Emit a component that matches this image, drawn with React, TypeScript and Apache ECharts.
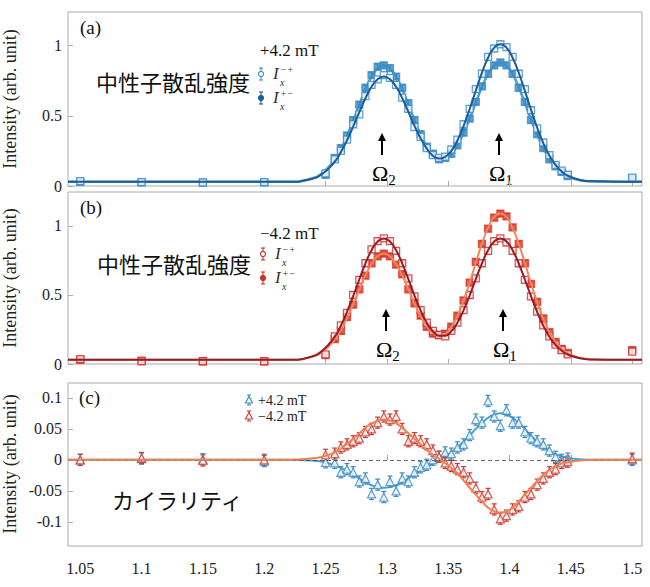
import React, { useRef, useEffect } from 'react';
import * as echarts from 'echarts';

// shared energy grid (dense scan) and sparse background points
const xDense = [1.2575, 1.2625, 1.2675, 1.2725, 1.2775, 1.2825, 1.2875, 1.2925, 1.2975, 1.3025, 1.3075, 1.3125, 1.3175, 1.3225, 1.3275, 1.3325, 1.3375, 1.3425, 1.3475, 1.3525, 1.3575, 1.3625, 1.3675, 1.3725, 1.3775, 1.3825, 1.3875, 1.3925, 1.3975, 1.4025, 1.4075, 1.4125, 1.4175, 1.4225, 1.4275, 1.4325, 1.4375, 1.4425, 1.4475];
const xSparse = [1.05, 1.1, 1.15, 1.2, 1.25, 1.5];
const fitXHead = [1.04, 1.22, 1.2375, 1.2475];
const fitXTail = [1.4575, 1.4675, 1.49, 1.508];
const xTicks = [1.05, 1.1, 1.15, 1.2, 1.25, 1.3, 1.35, 1.4, 1.45, 1.5];

// (a) +4.2 mT
const fitDarkA = [0.03, 0.03, 0.048, 0.087, 0.173, 0.242, 0.326, 0.423, 0.526, 0.625, 0.707, 0.761, 0.78, 0.761, 0.707, 0.626, 0.529, 0.429, 0.339, 0.266, 0.216, 0.196, 0.208, 0.25, 0.324, 0.427, 0.549, 0.68, 0.808, 0.914, 0.986, 1.01, 0.986, 0.914, 0.807, 0.678, 0.544, 0.417, 0.306, 0.217, 0.151, 0.104, 0.073, 0.043, 0.033, 0.03, 0.03];
const fitLightA = [0.03, 0.03, 0.05, 0.093, 0.189, 0.264, 0.358, 0.465, 0.579, 0.688, 0.779, 0.839, 0.86, 0.839, 0.779, 0.689, 0.582, 0.47, 0.369, 0.284, 0.226, 0.197, 0.198, 0.229, 0.29, 0.377, 0.48, 0.594, 0.705, 0.797, 0.859, 0.88, 0.859, 0.797, 0.704, 0.592, 0.475, 0.366, 0.27, 0.192, 0.135, 0.095, 0.067, 0.041, 0.033, 0.03, 0.03];
const openA = [0.19, 0.25, 0.33, 0.44, 0.51, 0.64, 0.72, 0.76, 0.79, 0.77, 0.72, 0.63, 0.55, 0.42, 0.35, 0.27, 0.22, 0.2, 0.21, 0.26, 0.33, 0.44, 0.55, 0.69, 0.8, 0.92, 0.98, 1.01, 0.99, 0.92, 0.8, 0.69, 0.54, 0.41, 0.31, 0.22, 0.15, 0.11, 0.08];
const openASparse = [0.035, 0.028, 0.025, 0.028, 0.09, 0.06];
const filledA = [0.2, 0.27, 0.36, 0.47, 0.58, 0.7, 0.79, 0.85, 0.86, 0.84, 0.78, 0.7, 0.59, 0.47, 0.37, 0.28, 0.23, 0.19, 0.2, 0.23, 0.29, 0.38, 0.48, 0.6, 0.71, 0.8, 0.86, 0.88, 0.86, 0.8, 0.7, 0.6, 0.47, 0.37, 0.27, 0.19, 0.14, 0.1, 0.07];
const filledASparse = [0.03, 0.026, 0.024, 0.026, 0.08, 0.055];

// (b) -4.2 mT
const fitDarkB = [0.03, 0.03, 0.051, 0.097, 0.198, 0.278, 0.378, 0.491, 0.612, 0.728, 0.824, 0.888, 0.91, 0.888, 0.824, 0.729, 0.615, 0.496, 0.389, 0.299, 0.237, 0.205, 0.205, 0.237, 0.299, 0.389, 0.496, 0.615, 0.729, 0.824, 0.888, 0.91, 0.888, 0.824, 0.728, 0.612, 0.491, 0.378, 0.278, 0.198, 0.138, 0.097, 0.069, 0.041, 0.033, 0.03, 0.03];
const fitOrangeB = [0.03, 0.03, 0.048, 0.089, 0.177, 0.247, 0.334, 0.433, 0.539, 0.641, 0.725, 0.781, 0.8, 0.781, 0.725, 0.642, 0.542, 0.439, 0.348, 0.272, 0.224, 0.206, 0.219, 0.266, 0.347, 0.459, 0.59, 0.733, 0.872, 0.986, 1.064, 1.09, 1.064, 0.986, 0.871, 0.731, 0.585, 0.449, 0.329, 0.232, 0.16, 0.111, 0.077, 0.044, 0.033, 0.03, 0.03];
const openB = [0.2, 0.28, 0.37, 0.5, 0.61, 0.73, 0.83, 0.89, 0.91, 0.89, 0.82, 0.73, 0.62, 0.49, 0.39, 0.3, 0.24, 0.21, 0.2, 0.24, 0.3, 0.39, 0.5, 0.62, 0.73, 0.82, 0.89, 0.91, 0.88, 0.82, 0.73, 0.61, 0.49, 0.38, 0.28, 0.2, 0.14, 0.1, 0.07];
const openBSparse = [0.035, 0.02, 0.02, 0.02, 0.07, 0.09];
const filledB = [0.18, 0.24, 0.34, 0.43, 0.54, 0.64, 0.73, 0.78, 0.8, 0.78, 0.72, 0.65, 0.54, 0.44, 0.35, 0.27, 0.22, 0.21, 0.22, 0.27, 0.35, 0.46, 0.59, 0.74, 0.87, 0.98, 1.06, 1.09, 1.07, 0.99, 0.87, 0.73, 0.58, 0.45, 0.33, 0.23, 0.16, 0.11, 0.08];
const filledBSparse = [0.03, 0.025, 0.02, 0.02, 0.065, 0.1];

// (c) chirality
const fitBlueC = [0, 0, -0.001, -0.003, -0.009, -0.013, -0.018, -0.024, -0.03, -0.036, -0.041, -0.044, -0.045, -0.044, -0.041, -0.036, -0.03, -0.024, -0.017, -0.011, -0.006, 0, 0.006, 0.012, 0.02, 0.029, 0.039, 0.05, 0.059, 0.068, 0.073, 0.075, 0.073, 0.068, 0.059, 0.05, 0.039, 0.03, 0.021, 0.014, 0.009, 0.006, 0.003, 0.001, 0, 0, 0];
const fitRedC = [0, 0, 0.002, 0.005, 0.012, 0.018, 0.026, 0.034, 0.043, 0.052, 0.059, 0.063, 0.065, 0.063, 0.059, 0.052, 0.043, 0.034, 0.025, 0.016, 0.008, 0.002, -0.005, -0.013, -0.022, -0.033, -0.045, -0.056, -0.067, -0.077, -0.083, -0.085, -0.083, -0.077, -0.067, -0.056, -0.045, -0.034, -0.024, -0.016, -0.01, -0.006, -0.004, -0.001, 0, 0, 0];
const blueC = [-0.005, -0.02, -0.015, -0.02, -0.035, -0.03, -0.055, -0.04, -0.06, -0.035, -0.05, -0.03, -0.035, -0.02, -0.012, -0.008, 0, 0.005, 0.012, 0.01, 0.02, 0.025, 0.04, 0.065, 0.06, 0.095, 0.07, 0.055, 0.08, 0.06, 0.06, 0.045, 0.035, 0.03, 0.025, 0.015, 0.005, 0, 0.002];
const blueCSparse = [0, 0.002, 0.001, -0.002, -0.004, 0];
const redC = [0.01, 0.02, 0.025, 0.03, 0.035, 0.045, 0.05, 0.06, 0.07, 0.065, 0.07, 0.05, 0.03, 0.035, 0.03, 0.025, 0.015, 0.005, -0.005, -0.01, -0.015, -0.02, -0.03, -0.045, -0.06, -0.055, -0.08, -0.095, -0.09, -0.08, -0.075, -0.06, -0.055, -0.04, -0.03, -0.02, -0.015, -0.005, -0.003];
const redCSparse = [0, 0.003, -0.001, 0, 0.008, 0.002];

const SERIF = 'Liberation Serif, DejaVu Serif, serif';
const JP = 'Noto Sans CJK JP, sans-serif';

const fitX = [...fitXHead, ...xDense, ...fitXTail];
const pairs = (xs: number[], ys: number[]) => xs.map((x, i) => [x, ys[i]]);
const points = (dense: number[], sparse: number[]) => [...pairs(xSparse, sparse), ...pairs(xDense, dense)];

function errBars(idx: number, data: number[][], err: number, color: string) {
  return {
    type: 'custom', xAxisIndex: idx, yAxisIndex: idx, z: 3,
    data: data.map(d => [d[0], d[1], err]),
    renderItem: (_p: any, api: any) => {
      const x = api.value(0), y = api.value(1), e = api.value(2);
      const t = api.coord([x, y + e]), b = api.coord([x, y - e]);
      const st = { stroke: color, lineWidth: 1.2 };
      return {
        type: 'group', children: [
          { type: 'line', shape: { x1: t[0], y1: t[1], x2: b[0], y2: b[1] }, style: st },
          { type: 'line', shape: { x1: t[0] - 2.5, y1: t[1], x2: t[0] + 2.5, y2: t[1] }, style: st },
          { type: 'line', shape: { x1: b[0] - 2.5, y1: b[1], x2: b[0] + 2.5, y2: b[1] }, style: st },
        ],
      };
    },
  };
}

function pts(idx: number, data: number[][], symbol: string, color: string, filled: boolean, size: number) {
  return {
    type: 'scatter', xAxisIndex: idx, yAxisIndex: idx, z: 4, data, symbol, symbolSize: size,
    itemStyle: { color: filled ? color : '#fff', borderColor: color, borderWidth: 1.3 },
  };
}

function fit(idx: number, ys: number[], color: string, width: number, z: number, extra: any = {}) {
  return {
    type: 'line', xAxisIndex: idx, yAxisIndex: idx, data: pairs(fitX, ys), smooth: true, symbol: 'none', z,
    lineStyle: { color, width }, ...extra,
  };
}

function omega(x: number, y: number, sub: string) {
  return [
    { type: 'line', shape: { x1: x, y1: y + 22, x2: x, y2: y + 6 }, style: { stroke: '#000', lineWidth: 2 } },
    { type: 'polygon', shape: { points: [[x - 4, y + 8], [x + 4, y + 8], [x, y]] }, style: { fill: '#000' } },
    {
      type: 'text', x: x - 10, y: y + 27,
      style: { text: `Ω{s|${sub}}`, fontFamily: SERIF, fontSize: 22, fill: '#000', rich: { s: { fontFamily: SERIF, fontSize: 15, padding: [12, 0, 0, 0] } } },
    },
  ];
}

function legendItem(x: number, y: number, color: string, filled: boolean, sup: string) {
  return [
    { type: 'line', shape: { x1: x, y1: y - 6, x2: x, y2: y + 6 }, style: { stroke: color, lineWidth: 1.1 } },
    { type: 'line', shape: { x1: x - 2, y1: y - 6, x2: x + 2, y2: y - 6 }, style: { stroke: color, lineWidth: 1.1 } },
    { type: 'line', shape: { x1: x - 2, y1: y + 6, x2: x + 2, y2: y + 6 }, style: { stroke: color, lineWidth: 1.1 } },
    { type: 'circle', shape: { cx: x, cy: y, r: 2.5 }, style: { fill: filled ? color : '#fff', stroke: color, lineWidth: 1.1 } },
    { type: 'text', x: x + 12, y: y - 9, style: { text: 'I', fontFamily: SERIF, fontStyle: 'italic', fontSize: 17, fill: '#333' } },
    { type: 'text', x: x + 19, y: y - 10, style: { text: sup, fontFamily: SERIF, fontStyle: 'italic', fontSize: 10, fill: '#333' } },
    { type: 'text', x: x + 19, y: y + 3, style: { text: 'x', fontFamily: SERIF, fontStyle: 'italic', fontSize: 10, fill: '#333' } },
  ];
}

function triLegend(x: number, y: number, color: string, label: string) {
  return [
    { type: 'line', shape: { x1: x, y1: y - 5, x2: x, y2: y + 5 }, style: { stroke: color, lineWidth: 1.1 } },
    { type: 'line', shape: { x1: x - 2, y1: y - 5, x2: x + 2, y2: y - 5 }, style: { stroke: color, lineWidth: 1.1 } },
    { type: 'line', shape: { x1: x - 2, y1: y + 5, x2: x + 2, y2: y + 5 }, style: { stroke: color, lineWidth: 1.1 } },
    { type: 'polygon', shape: { points: [[x - 3.5, y + 3], [x + 3.5, y + 3], [x, y - 3.5]] }, style: { fill: '#fff', stroke: color, lineWidth: 1.1 } },
    { type: 'text', x: x + 9, y: y - 7, style: { text: label, fontFamily: SERIF, fontSize: 14, fill: '#222' } },
  ];
}

export default function App() {
  const ref = useRef<HTMLDivElement>(null);

  useEffect(() => {
    if (!ref.current) return;
    const chart = echarts.init(ref.current, null, { renderer: 'svg' });

    const grids = [
      { left: 68, right: 8, top: 12, height: 174 },
      { left: 68, right: 8, top: 192, height: 172 },
      { left: 68, right: 8, top: 383, height: 163 },
    ];
    const yRanges = [[0, 1.24], [0, 1.246], [-0.139, 0.124]];
    const yTicks = [[0, 0.5, 1], [0, 0.5, 1], [-0.1, -0.05, 0, 0.05, 0.1]];
    const axisText = { color: '#222', fontFamily: SERIF, fontSize: 16 };

    const option: any = {
      animation: false,
      grid: grids.map(g => ({ ...g, show: true, borderColor: '#aaa', borderWidth: 1, backgroundColor: '#fff' })),
      xAxis: grids.map((_, i) => ({
        type: 'value', gridIndex: i, min: 1.04, max: 1.508,
        axisLine: { show: false }, splitLine: { show: false },
        axisTick: { inside: true, length: 5, lineStyle: { color: '#aaa' }, customValues: xTicks },
        axisLabel: {
          show: i === 2, margin: 14, ...axisText, customValues: xTicks,
          formatter: (v: number) => String(parseFloat(v.toFixed(2))),
        },
      })),
      yAxis: grids.map((_, i) => ({
        type: 'value', gridIndex: i, min: yRanges[i][0], max: yRanges[i][1],
        axisLine: { show: false }, splitLine: { show: false },
        axisTick: { inside: true, length: 5, lineStyle: { color: '#aaa' }, customValues: yTicks[i] },
        axisLabel: { margin: 6, ...axisText, customValues: yTicks[i], formatter: (v: number) => String(parseFloat(v.toFixed(2))) },
      })),
      series: [
        // (a)
        fit(0, fitLightA, '#4a9fd4', 2.5, 2),
        errBars(0, points(filledA, filledASparse), 0.02, '#3d8cc4'),
        pts(0, points(filledA, filledASparse), 'rect', '#3d8cc4', true, 7),
        errBars(0, points(openA, openASparse), 0.02, '#3d8cc4'),
        pts(0, points(openA, openASparse), 'rect', '#3d8cc4', false, 7),
        fit(0, fitDarkA, '#1c5c98', 2, 5),
        // (b)
        fit(1, fitOrangeB, '#f0875c', 2, 5),
        errBars(1, points(filledB, filledBSparse), 0.02, '#d8382c'),
        pts(1, points(filledB, filledBSparse), 'rect', '#d8382c', true, 7),
        errBars(1, points(openB, openBSparse), 0.02, '#c9302a'),
        pts(1, points(openB, openBSparse), 'rect', '#c9302a', false, 7),
        fit(1, fitDarkB, '#9a1b25', 2, 5),
        // (c)
        fit(2, fitBlueC, '#4a9fd4', 2, 2, {
          markLine: {
            silent: true, symbol: 'none', label: { show: false },
            lineStyle: { color: '#444', type: [4, 3], width: 0.8 }, data: [{ yAxis: 0 }],
          },
        }),
        errBars(2, points(blueC, blueCSparse), 0.009, '#3d8cc4'),
        pts(2, points(blueC, blueCSparse), 'triangle', '#3d8cc4', false, 8),
        errBars(2, points(redC, redCSparse), 0.009, '#cc3b32'),
        pts(2, points(redC, redCSparse), 'triangle', '#cc3b32', false, 8),
        fit(2, fitRedC, '#ef8350', 2, 5),
      ],
      graphic: [
        ...[[10, 99, 'Intensity (arb. unit)'], [10, 278, 'Intensity (arb. unit)'], [10, 464, 'Intensity (arb. unit)']].map(([x, y, t]) => ({
          type: 'text', x, y, rotation: Math.PI / 2, style: { text: t, fontFamily: SERIF, fontSize: 18, fill: '#222', align: 'center', verticalAlign: 'middle' },
        })),
        { type: 'text', x: 80, y: 18, style: { text: '(a)', fontFamily: SERIF, fontSize: 19, fill: '#111' } },
        { type: 'text', x: 80, y: 198, style: { text: '(b)', fontFamily: SERIF, fontSize: 19, fill: '#111' } },
        { type: 'text', x: 79, y: 388, style: { text: '(c)', fontFamily: SERIF, fontSize: 19, fill: '#111' } },
        { type: 'text', x: 96, y: 70, style: { text: '中性子散乱強度', fontFamily: JP, fontSize: 22, fill: '#111' } },
        { type: 'text', x: 97, y: 252, style: { text: '中性子散乱強度', fontFamily: JP, fontSize: 22, fill: '#111' } },
        { type: 'text', x: 112, y: 488, style: { text: 'カイラリティ', fontFamily: JP, fontSize: 22, fill: '#111' } },
        { type: 'text', x: 260, y: 42, style: { text: '+4.2 mT', fontFamily: SERIF, fontSize: 17, fill: '#111' } },
        { type: 'text', x: 260, y: 225, style: { text: '−4.2 mT', fontFamily: SERIF, fontSize: 17, fill: '#111' } },
        ...legendItem(261, 74, '#3d8cc4', false, '−+'),
        ...legendItem(261, 98, '#1c5c98', true, '+−'),
        ...legendItem(263, 254, '#c9302a', false, '−+'),
        ...legendItem(263, 278, '#c9302a', true, '+−'),
        ...triLegend(249, 400, '#3d8cc4', '+4.2 mT'),
        ...triLegend(249, 416, '#cc3b32', '−4.2 mT'),
        ...omega(382, 133, '2'),
        ...omega(499, 133, '1'),
        ...omega(386, 309, '2'),
        ...omega(503, 309, '1'),
      ],
    };

    chart.setOption(option);
    return () => chart.dispose();
  }, []);

  return <div ref={ref} style={{ position: 'fixed', left: 0, top: 0, width: 650, height: 587, background: '#fff' }} />;
}
